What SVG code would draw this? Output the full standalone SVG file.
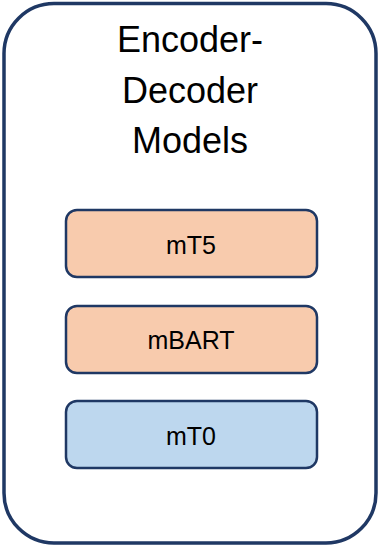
<svg xmlns="http://www.w3.org/2000/svg" width="379" height="546" viewBox="0 0 379 546">
  <style>
    .frame { fill: #ffffff; stroke: #1f3864; stroke-width: 3.5; }
    .model { stroke: #1f3864; stroke-width: 2.5; }
    .mt5, .mbart { fill: #f8cbad; }
    .mt0 { fill: #bdd7ee; }
    .title { font-family: "Liberation Sans", Arial, sans-serif; font-size: 36px; fill: #000000; text-anchor: middle; }
    .label { font-family: "Liberation Sans", Arial, sans-serif; font-size: 25px; fill: #000000; text-anchor: middle; }
  </style>

  <g id="container">
    <rect class="frame" x="4" y="3.5" width="372" height="539.5" rx="50" ry="50"/>
    <text class="title" x="190" y="52">Encoder-</text>
    <text class="title" x="190" y="103">Decoder</text>
    <text class="title" x="190" y="153">Models</text>
  </g>

  <g id="node-mt5">
    <rect class="model mt5" x="66" y="210" width="251" height="67" rx="11" ry="11"/>
    <text class="label" x="191" y="254">mT5</text>
  </g>

  <g id="node-mbart">
    <rect class="model mbart" x="66" y="306" width="251" height="67" rx="11" ry="11"/>
    <text class="label" x="191" y="349">mBART</text>
  </g>

  <g id="node-mt0">
    <rect class="model mt0" x="66" y="401" width="251" height="67" rx="11" ry="11"/>
    <text class="label" x="191" y="445">mT0</text>
  </g>

  <g id="connectors"></g>
</svg>
